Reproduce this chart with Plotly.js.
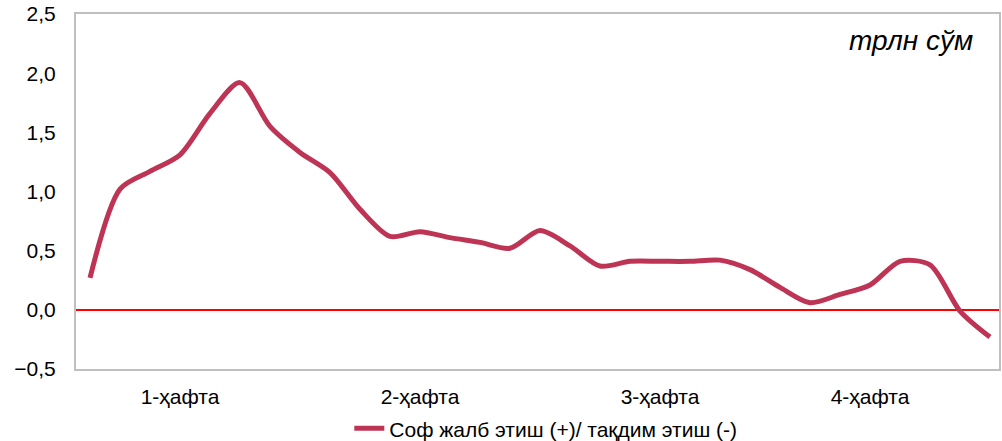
<!DOCTYPE html>
<html>
<head>
<meta charset="utf-8">
<script src="https://cdn.plot.ly/plotly-3.0.1.min.js"></script>
<style>html,body{margin:0;padding:0;background:#fff;}#chart{width:1002px;height:441px;}</style>
</head>
<body>
<div id="chart"></div>
<script>
// Daily values across the month (трлн сўм)
const days = [1,2,3,4,5,6,7,8,9,10,11,12,13,14,15,16,17,18,19,20,21,22,23,24,25,26,27,28,29,30,31];
const values = [0.27,1.02,1.17,1.31,1.66,1.92,1.55,1.33,1.16,0.85,0.62,0.66,0.61,0.57,0.52,0.67,0.54,0.37,0.41,0.41,0.41,0.42,0.34,0.19,0.06,0.13,0.21,0.41,0.38,-0.01,-0.23];
const weekTickDays = [4,12,20,27];
const weekLabels = ['1-ҳафта','2-ҳафта','3-ҳафта','4-ҳафта'];
const yTicks = [-0.5,0,0.5,1,1.5,2,2.5];
const seriesName = 'Соф жалб этиш (+)/ тақдим этиш (-)';
const unitLabel = 'трлн сўм';

const font = {family:'Liberation Sans, Arial, sans-serif', size:21, color:'#000', style:'normal'};

Plotly.newPlot('chart', [{
  x: days, y: values, type:'scatter', mode:'lines', name: seriesName,
  line:{color:'#BE3455', width:5, shape:'spline', smoothing:0.8}
}], {
  width:1002, height:441,
  margin:{l:76, r:3, t:14, b:72, autoexpand:false},
  paper_bgcolor:'#fff', plot_bgcolor:'#fff',
  font: font,
  separators: ', ',
  showlegend:true,
  legend:{orientation:'h', x:0.509, xanchor:'center', yref:'container', y:0.028, yanchor:'middle', font:font},
  xaxis:{
    range:[0.533, 31.3], tickmode:'array', tickvals:weekTickDays, ticktext:weekLabels,
    showgrid:false, zeroline:false, showline:true, mirror:true, linecolor:'#BFBFBF', linewidth:2,
    ticks:'', ticklabelstandoff:8, tickfont:font, automargin:false
  },
  yaxis:{
    range:[-0.5,2.5], tickmode:'array', tickvals:yTicks, tickformat:'.1f',
    showgrid:false, zeroline:true, zerolinecolor:'#FF0000', zerolinewidth:1.5,
    showline:true, mirror:true, linecolor:'#BFBFBF', linewidth:2,
    ticks:'', ticklabelstandoff:14, tickfont:font, automargin:false
  },
  annotations:[{
    text: unitLabel, xref:'paper', yref:'paper', x:0.974, y:0.925, xanchor:'right', yanchor:'middle',
    showarrow:false, font:{family:'Liberation Sans, Arial, sans-serif', size:28, color:'#000', style:'italic'}
  }]
}, {displayModeBar:false, staticPlot:true});
</script>
</body>
</html>
